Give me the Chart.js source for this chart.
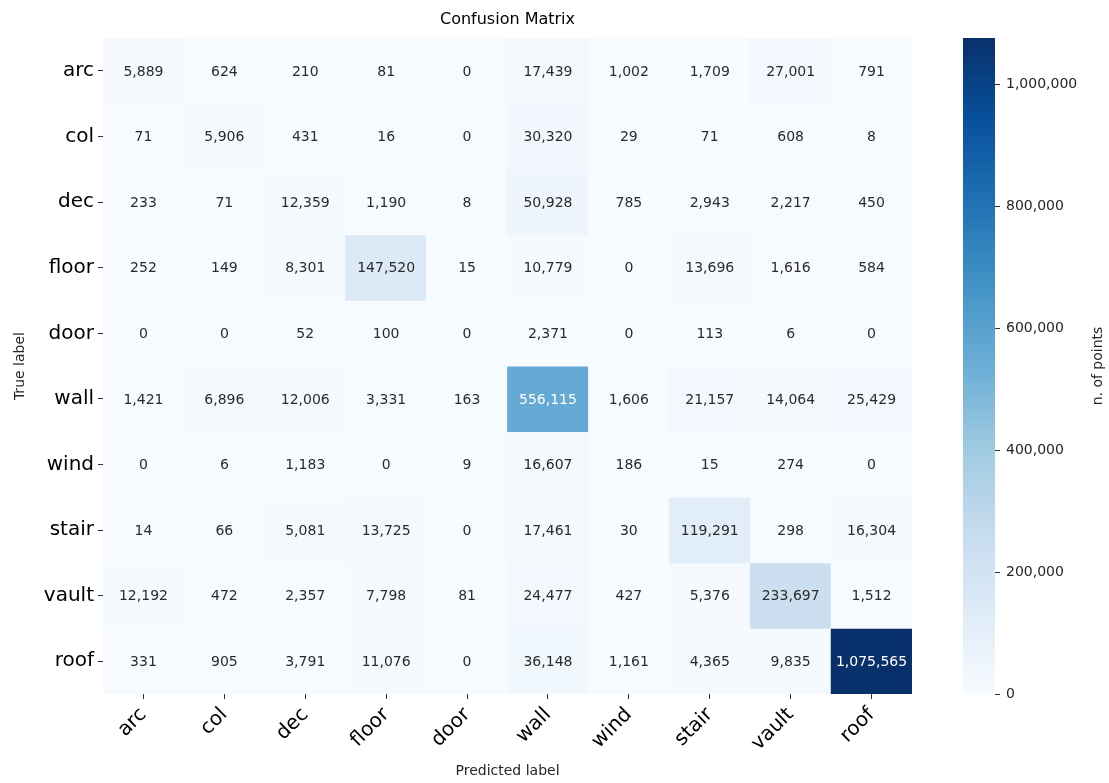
<!DOCTYPE html>
<html>
<head>
<meta charset="utf-8">
<script src="https://cdn.jsdelivr.net/npm/chart.js@4/dist/chart.umd.min.js"></script>
<style>
  body { margin: 0; background: #fff; }
  #wrap { position: relative; width: 1109px; height: 783px; }
  #matrix { position: absolute; left: 0; top: 0; }
  #bar { position: absolute; left: 963px; top: 0; }
</style>
</head>
<body>
<div id="wrap">
  <canvas id="matrix" width="1109" height="783"></canvas>
  <canvas id="bar" width="146" height="783"></canvas>
</div>
<script>
const trueLabels = ["arc", "col", "dec", "floor", "door", "wall", "wind", "stair", "vault", "roof"];
const predLabels = ["arc", "col", "dec", "floor", "door", "wall", "wind", "stair", "vault", "roof"];

// one array per true-label row
const rowArc   = [5889, 624, 210, 81, 0, 17439, 1002, 1709, 27001, 791];
const rowCol   = [71, 5906, 431, 16, 0, 30320, 29, 71, 608, 8];
const rowDec   = [233, 71, 12359, 1190, 8, 50928, 785, 2943, 2217, 450];
const rowFloor = [252, 149, 8301, 147520, 15, 10779, 0, 13696, 1616, 584];
const rowDoor  = [0, 0, 52, 100, 0, 2371, 0, 113, 6, 0];
const rowWall  = [1421, 6896, 12006, 3331, 163, 556115, 1606, 21157, 14064, 25429];
const rowWind  = [0, 6, 1183, 0, 9, 16607, 186, 15, 274, 0];
const rowStair = [14, 66, 5081, 13725, 0, 17461, 30, 119291, 298, 16304];
const rowVault = [12192, 472, 2357, 7798, 81, 24477, 427, 5376, 233697, 1512];
const rowRoof  = [331, 905, 3791, 11076, 0, 36148, 1161, 4365, 9835, 1075565];
const matrix = [rowArc, rowCol, rowDec, rowFloor, rowDoor, rowWall, rowWind, rowStair, rowVault, rowRoof];

const colorbarTicks = [0, 200000, 400000, 600000, 800000, 1000000];

// matplotlib "Blues"
const blues = ["#f7fbff", "#deebf7", "#c6dbef", "#9ecae1", "#6baed6", "#4292c6", "#2171b5", "#08519c", "#08306b"];

const vmax = Math.max(...matrix.flat());
const fmt = v => v.toLocaleString("en-US");

function hexRgb(h) {
  return [parseInt(h.slice(1, 3), 16), parseInt(h.slice(3, 5), 16), parseInt(h.slice(5, 7), 16)];
}
function bluesRgb(t) {
  t = Math.min(1, Math.max(0, t));
  const p = t * (blues.length - 1);
  const i = Math.min(blues.length - 2, Math.floor(p));
  const f = p - i;
  const a = hexRgb(blues[i]), b = hexRgb(blues[i + 1]);
  return a.map((c, k) => Math.round(c + (b[k] - c) * f));
}
function rgbStr(c) { return "rgb(" + c.join(",") + ")"; }
function luminance(c) {
  const l = c.map(v => {
    v = v / 255;
    return v <= 0.03928 ? v / 12.92 : Math.pow((v + 0.055) / 1.055, 2.4);
  });
  return 0.2126 * l[0] + 0.7152 * l[1] + 0.0722 * l[2];
}

const font = "'DejaVu Sans', sans-serif";

// each true-label row is a dataset of floating bars spanning [r-0.5, r+0.5]
const datasets = matrix.map((row, r) => ({
  label: trueLabels[r],
  data: row.map(() => [r - 0.5, r + 0.5]),
  backgroundColor: row.map(v => rgbStr(bluesRgb(v / vmax))),
  borderWidth: 0,
  grouped: false,
  barPercentage: 1,
  categoryPercentage: 1
}));

// cell numbers
const annotate = {
  id: "annotate",
  afterDatasetsDraw(chart) {
    const ctx = chart.ctx;
    const xs = chart.scales.x, ys = chart.scales.y;
    ctx.save();
    ctx.font = "14px " + font;
    ctx.textAlign = "center";
    ctx.textBaseline = "middle";
    matrix.forEach((row, r) => {
      row.forEach((v, c) => {
        const col = bluesRgb(v / vmax);
        ctx.fillStyle = luminance(col) > 0.408 ? "#2b2b2b" : "#ffffff";
        ctx.fillText(fmt(v), xs.getPixelForValue(c), ys.getPixelForValue(r) + 1);
      });
    });
    ctx.restore();
  }
};

new Chart(document.getElementById("matrix"), {
  type: "bar",
  data: { labels: predLabels, datasets: datasets },
  plugins: [annotate],
  options: {
    responsive: false,
    animation: false,
    layout: { padding: { left: 0, right: 197, top: 0, bottom: 0 } },
    plugins: {
      legend: { display: false },
      tooltip: { enabled: false },
      title: {
        display: true,
        text: "Confusion Matrix",
        fullSize: false,
        color: "#000",
        font: { family: font, size: 16, weight: "normal" },
        padding: { top: 10, bottom: 9 }
      }
    },
    scales: {
      x: {
        type: "category",
        offset: true,
        grid: { display: true, offset: false, drawOnChartArea: false, drawTicks: true, tickLength: 5, color: "#333" },
        border: { display: false },
        ticks: {
          color: "#000",
          font: { family: font, size: 20 },
          minRotation: 45,
          maxRotation: 45,
          padding: 4
        },
        title: {
          display: true,
          text: "Predicted label",
          color: "#262626",
          font: { family: font, size: 14 },
          padding: { top: 0, bottom: 3 }
        },
        afterFit(scale) { scale.height = 89; }
      },
      y: {
        type: "linear",
        reverse: true,
        min: -0.5,
        max: 9.5,
        afterBuildTicks(scale) {
          scale.ticks = trueLabels.map((_, i) => ({ value: i }));
        },
        grid: { display: true, drawOnChartArea: false, drawTicks: true, tickLength: 5, color: "#333" },
        border: { display: false },
        ticks: {
          color: "#000",
          font: { family: font, size: 20 },
          padding: 4,
          callback: v => trueLabels[v]
        },
        title: {
          display: true,
          text: "True label",
          color: "#262626",
          font: { family: font, size: 14 },
          padding: { top: 12, bottom: 0 }
        },
        afterFit(scale) { scale.width = 103; }
      }
    }
  }
});

// colorbar
const cbTitle = {
  id: "cbTitle",
  afterDraw(chart) {
    const ctx = chart.ctx;
    const a = chart.chartArea;
    ctx.save();
    ctx.translate(135, (a.top + a.bottom) / 2);
    ctx.rotate(-Math.PI / 2);
    ctx.font = "14px " + font;
    ctx.fillStyle = "#262626";
    ctx.textAlign = "center";
    ctx.textBaseline = "middle";
    ctx.fillText("n. of points", 0, 0);
    ctx.restore();
  }
};

new Chart(document.getElementById("bar"), {
  type: "bar",
  data: {
    labels: [""],
    datasets: [{
      data: [[0, vmax]],
      borderWidth: 0,
      barPercentage: 1,
      categoryPercentage: 1,
      backgroundColor(context) {
        const a = context.chart.chartArea;
        if (!a) return blues[4];
        const g = context.chart.ctx.createLinearGradient(0, a.bottom, 0, a.top);
        blues.forEach((c, i) => g.addColorStop(i / (blues.length - 1), c));
        return g;
      }
    }]
  },
  plugins: [cbTitle],
  options: {
    responsive: false,
    animation: false,
    layout: { padding: { left: 0, right: 0, top: 38, bottom: 89 } },
    plugins: { legend: { display: false }, tooltip: { enabled: false }, title: { display: false } },
    scales: {
      x: { display: false },
      y: {
        position: "right",
        min: 0,
        max: vmax,
        afterBuildTicks(scale) {
          scale.ticks = colorbarTicks.map(v => ({ value: v }));
        },
        grid: { display: true, drawOnChartArea: false, drawTicks: true, tickLength: 5, color: "#333" },
        border: { display: false },
        ticks: {
          color: "#262626",
          font: { family: font, size: 14 },
          padding: 6,
          callback: v => fmt(v)
        },
        afterFit(scale) { scale.width = 114; }
      }
    }
  }
});
</script>
</body>
</html>
